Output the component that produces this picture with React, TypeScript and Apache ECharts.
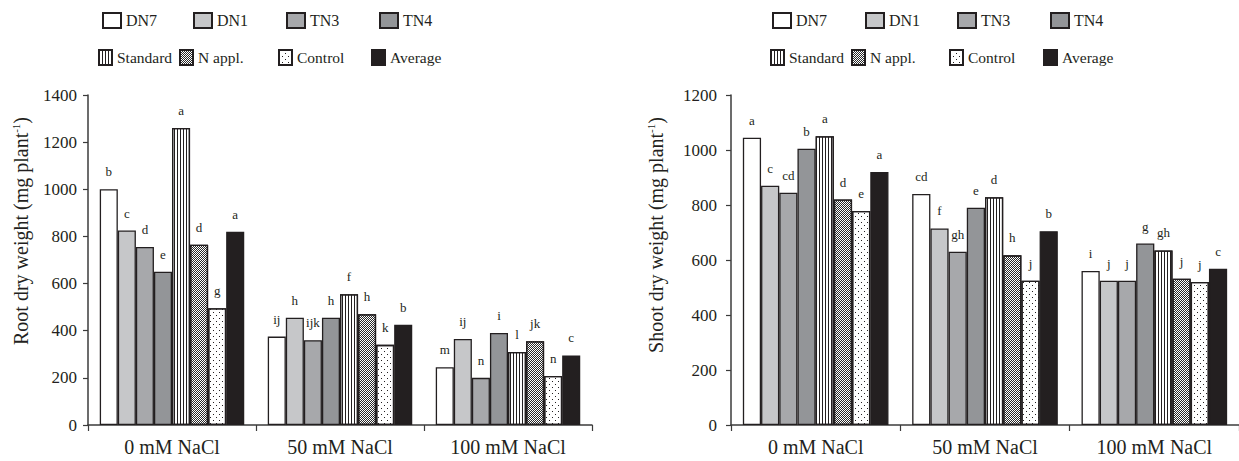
import React, { useEffect, useRef } from "react";
import * as echarts from "echarts";

const categories = ["0 mM NaCl", "50 mM NaCl", "100 mM NaCl"];
const seriesNames = ["DN7", "DN1", "TN3", "TN4", "Standard", "N appl.", "Control", "Average"];

const root0 = [1000, 825, 755, 650, 1260, 765, 495, 820];
const root50 = [375, 455, 360, 455, 555, 470, 340, 425];
const root100 = [245, 365, 200, 390, 310, 355, 208, 295];
const rootLetters0 = ["b", "c", "d", "e", "a", "d", "g", "a"];
const rootLetters50 = ["ij", "h", "ijk", "h", "f", "h", "k", "b"];
const rootLetters100 = ["m", "ij", "n", "i", "l", "jk", "n", "c"];

const shoot0 = [1045, 870, 845, 1005, 1050, 820, 778, 920];
const shoot50 = [840, 715, 630, 790, 828, 617, 525, 705];
const shoot100 = [560, 525, 525, 660, 635, 532, 520, 568];
const shootLetters0 = ["a", "c", "cd", "b", "a", "d", "e", "a"];
const shootLetters50 = ["cd", "f", "gh", "e", "d", "h", "j", "b"];
const shootLetters100 = ["i", "j", "j", "g", "gh", "j", "j", "c"];

const rootMax = 1400;
const shootMax = 1200;
const tickStep = 200;

const FONT = "Liberation Serif";
const INK = "#231f20";
const AXIS = "#3b3b3b";

const fills = ["#ffffff", "#c6c7c9", "#a7a8ab", "#939598", "#ffffff", "#ffffff", "#ffffff", "#231f20"];
const decals: any[] = [
  null,
  null,
  null,
  null,
  { symbol: "rect", symbolSize: 1, dashArrayX: [1, 2], dashArrayY: [4, 0], color: INK },
  { symbol: "rect", symbolSize: 1, dashArrayX: [[1, 1], [0, 1, 1, 0]], dashArrayY: [1, 0], color: "#2a2a2a" },
  { symbol: "rect", symbolSize: 1, dashArrayX: [[1, 5], [0, 3, 1, 2]], dashArrayY: [1, 2], color: INK },
  null,
];

// legend icon positions [left, top]
const leftLegendPos = [[102, 12], [193, 12], [286, 12], [379, 12], [98, 49], [179, 49], [278, 49], [371, 49]];
const rightLegendPos = [[772, 12], [865, 12], [957, 12], [1050, 12], [770, 49], [851, 49], [949, 49], [1043, 49]];

function makeLegends(pos: number[][]) {
  return seriesNames.map((n, i) => ({
    data: [n],
    left: pos[i][0],
    top: pos[i][1],
    padding: 0,
    itemWidth: i < 4 ? 18 : 13,
    itemHeight: 15,
    icon: "rect",
    selectedMode: false,
    textStyle: { fontFamily: FONT, fontSize: i < 4 ? 16 : 15.5, color: INK },
  }));
}

function makeSeries(gridIdx: number, vals: number[][], letters: string[][]) {
  return seriesNames.map((n, i) => ({
    type: "bar",
    name: n,
    xAxisIndex: gridIdx,
    yAxisIndex: gridIdx,
    barGap: "0%",
    barCategoryGap: "14%",
    data: vals.map((g) => g[i]),
    itemStyle: {
      color: fills[i],
      borderColor: INK,
      borderWidth: 1.3,
      decal: decals[i] || undefined,
    },
    label: {
      show: true,
      position: "top",
      distance: 11,
      fontFamily: FONT,
      fontSize: 13,
      color: INK,
      formatter: (p: any) => letters[p.dataIndex][i],
    },
  }));
}

function makeY(gridIdx: number, max: number, name: string, gap: number, shift: number, margin: number) {
  return {
    type: "value",
    gridIndex: gridIdx,
    min: 0,
    max,
    interval: tickStep,
    name,
    nameLocation: "middle",
    nameGap: gap,
    nameRotate: 90,
    nameTextStyle: {
      fontFamily: FONT,
      fontSize: 20,
      color: INK,
      padding: [0, 0, 0, shift],
      rich: {
        sup: { fontFamily: FONT, fontSize: 11, color: INK, verticalAlign: "top", lineHeight: 22 },
      },
    },
    axisLine: { show: true, lineStyle: { color: AXIS, width: 1.5 } },
    axisTick: { show: true, length: 5, lineStyle: { color: AXIS, width: 1.2 } },
    axisLabel: {
      fontFamily: FONT,
      fontSize: 17,
      color: INK,
      margin,
      formatter: (v: number) => String(v),
    },
    splitLine: { show: false },
  };
}

function makeX(gridIdx: number) {
  return {
    type: "category",
    gridIndex: gridIdx,
    data: categories,
    boundaryGap: true,
    axisLine: { show: true, lineStyle: { color: AXIS, width: 1.5 } },
    axisTick: { show: true, length: 6, alignWithLabel: false, lineStyle: { color: AXIS, width: 1.2 } },
    axisLabel: { fontFamily: FONT, fontSize: 20, color: INK, margin: 12 },
  };
}

export default function App() {
  const ref = useRef<HTMLDivElement>(null);
  useEffect(() => {
    document.body.style.margin = "0";
    if (!ref.current) return;
    const chart = echarts.init(ref.current, null, { renderer: "svg" });
    chart.setOption({
      animation: false,
      backgroundColor: "#ffffff",
      textStyle: { fontFamily: FONT },
      legend: [...makeLegends(leftLegendPos), ...makeLegends(rightLegendPos)],
      grid: [
        { left: 88, top: 95, width: 504, height: 330, containLabel: false },
        { left: 731, top: 95, width: 510, height: 330, containLabel: false },
      ],
      xAxis: [makeX(0), makeX(1)],
      yAxis: [
        makeY(0, rootMax, "Root dry weight (mg plant{sup|-1})", 56, 58, 11),
        makeY(1, shootMax, "Shoot dry weight (mg plant{sup|-1})", 64, 50, 14),
      ],
      series: [
        ...makeSeries(0, [root0, root50, root100], [rootLetters0, rootLetters50, rootLetters100]),
        ...makeSeries(1, [shoot0, shoot50, shoot100], [shootLetters0, shootLetters50, shootLetters100]),
      ],
    });
    return () => chart.dispose();
  }, []);
  return <div ref={ref} style={{ width: 1239, height: 461 }} />;
}
